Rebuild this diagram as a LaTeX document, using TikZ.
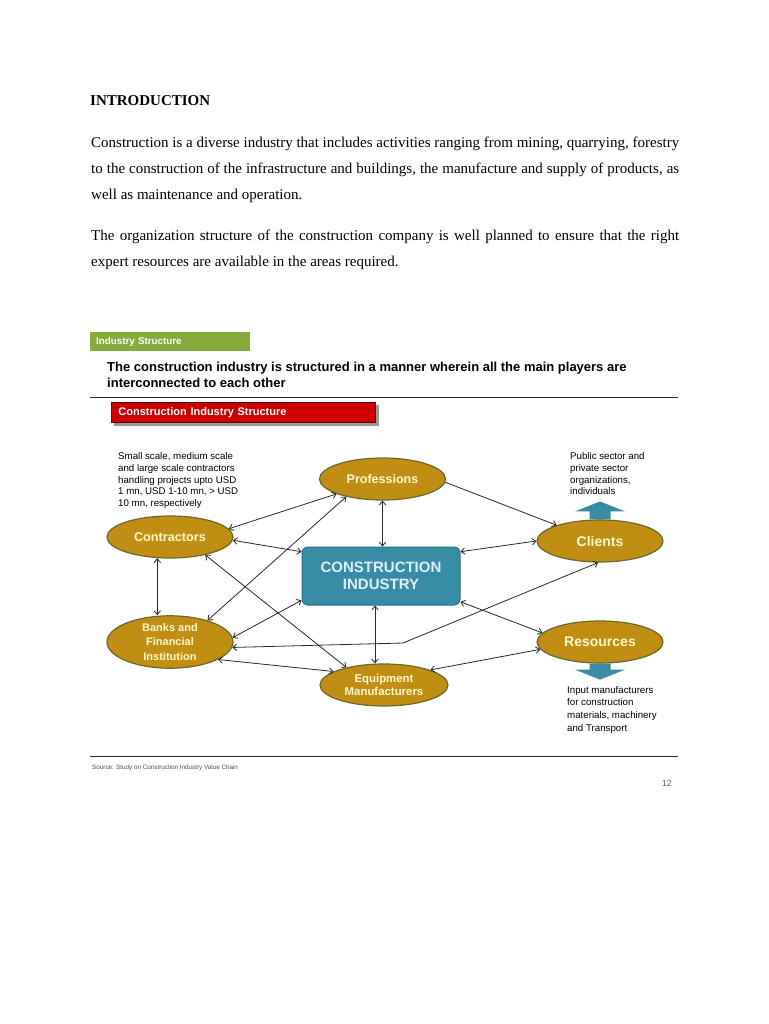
\documentclass[tikz,border=0pt]{standalone}
\usepackage{fontspec}
\setmainfont{Liberation Serif}
\setsansfont{Liberation Sans}
\usepackage{tikz}
\usetikzlibrary{shapes.geometric,arrows.meta,backgrounds}
\definecolor{playergold}{RGB}{191,142,18}
\definecolor{playeredge}{RGB}{105,105,45}
\definecolor{playertext}{RGB}{255,248,205}
\definecolor{industryteal}{RGB}{56,140,166}
\definecolor{industryedge}{RGB}{40,112,134}
\definecolor{industrytext}{RGB}{224,240,248}
\definecolor{bargreen}{RGB}{134,170,60}
\definecolor{barred}{RGB}{204,0,0}
\definecolor{barrededge}{RGB}{90,10,10}
\definecolor{linegrey}{RGB}{40,40,40}
\hyphenpenalty=10000
\exhyphenpenalty=10000

\begin{document}
\begin{tikzpicture}[
    x=1pt, y=-1pt,
    font=\sffamily,
    >={Straight Barb[length=3.8pt,width=6.5pt]},
    player/.style={ellipse, draw=playeredge, line width=1.2pt, fill=playergold, minimum width=126pt, minimum height=42pt, inner sep=0pt, align=center, text=playertext},
    hub/.style={draw=industryedge, line width=1pt, fill=industryteal, rounded corners=6pt, minimum width=158pt, minimum height=58pt, align=center, text=industrytext},
    note/.style={anchor=north west, inner sep=0pt, align=left, font=\sffamily\fontsize{9.7}{11.9}\selectfont},
    bodytext/.style={anchor=north west, inner sep=0pt, text width=588pt, align=justify, font=\rmfamily\fontsize{15}{26}\selectfont},
    arrow/.style={<->, line width=0.8pt, draw=linegrey},
    onearrow/.style={->, line width=0.8pt, draw=linegrey}
]
\useasboundingbox (0,0) rectangle (768,1024);

% ===================== PAGE TEXT =====================
\node[anchor=base west, inner sep=0pt, font=\rmfamily\bfseries\fontsize{15}{18}\selectfont] (intro) at (90,106) {INTRODUCTION};

\node[bodytext] (para1) at (91,136.8)
{Construction is a diverse industry that includes activities ranging from mining, quarrying, forestry\linebreak
to the construction of the infrastructure and buildings, the manufacture and supply of products, as\linebreak
well as maintenance and operation.};

\node[bodytext] (para2) at (91,229.8)
{The organization structure of the construction company is well planned to ensure that the right\linebreak
expert resources are available in the areas required.};

% ===================== HEADERS =====================
\node[anchor=north west, fill=bargreen, minimum height=19pt, text width=148pt, inner xsep=6pt, inner ysep=0pt, align=left, text=white, font=\sffamily\bfseries\fontsize{9.8}{11}\selectfont] (sectionbar) at (90,332) {Industry Structure};

\node[anchor=north west, inner sep=0pt, align=left, font=\sffamily\bfseries\fontsize{13}{15.5}\selectfont] (subtitle) at (107,362)
{The construction industry is structured in a manner wherein all the main players are\\interconnected to each other};

\draw[linegrey, line width=0.8pt] (90,397) -- (678,397);

\node[anchor=north west, fill=barred, draw=barrededge, line width=0.8pt, minimum height=20pt, text width=250pt, inner xsep=7pt, inner ysep=0pt, align=left, text=white, font=\sffamily\bfseries\fontsize{11}{13}\selectfont] (figtitle) at (111,402) {Construction Industry Structure};

% ===================== PLAYERS =====================
\node[player, font=\sffamily\bfseries\fontsize{12.5}{14}\selectfont] (professions) at (382.5,479) {Professions};
\node[player, font=\sffamily\bfseries\fontsize{12.7}{14}\selectfont] (contractors) at (170,537) {Contractors};
\node[player, font=\sffamily\bfseries\fontsize{14}{16}\selectfont] (clients) at (600,541) {Clients};
\node[player, font=\sffamily\bfseries\fontsize{11}{14.5}\selectfont] (banks) at (170,642) {Banks and\\Financial\\Institution};
\node[player, font=\sffamily\bfseries\fontsize{14}{16}\selectfont] (resources) at (600,642) {Resources};
\node[player, minimum width=128pt, font=\sffamily\bfseries\fontsize{11.4}{13}\selectfont] (equipment) at (384,685) {Equipment\\Manufacturers};

\node[hub, font=\sffamily\bfseries\fontsize{15}{17.5}\selectfont] (industry) at (381,576) {CONSTRUCTION\\INDUSTRY};

% ===================== NOTES =====================
\node[note] (contractnote) at (118,452)
{Small scale, medium scale\\and large scale contractors\\handling projects upto USD\\1 mn, USD 1-10 mn, > USD\\10 mn, respectively};
\node[note] (clientnote) at (570,452)
{Public sector  and\\private sector\\organizations,\\individuals};
\node[note, font=\sffamily\fontsize{9.7}{12.6}\selectfont] (resourcenote) at (567,686)
{Input manufacturers\\for construction\\materials, machinery\\and Transport};

% ===================== FOOTER =====================
\draw[linegrey, line width=0.8pt] (90,756) -- (678,756);
\node[anchor=west, inner sep=0pt, text=black!70, font=\sffamily\fontsize{6.3}{7}\selectfont] (source) at (92,768) {Source: Study on Construction Industry Value Chain};
\node[anchor=east, inner sep=0pt, text=black!60, font=\sffamily\fontsize{9}{10}\selectfont] (pageno) at (672,783) {12};

% ===================== BACKGROUND =====================
\begin{pgfonlayer}{background}
\fill[white] (0,0) rectangle (768,1024);
\fill[black!40] ([shift={(3,3)}]figtitle.north west) rectangle ([shift={(3,3)}]figtitle.south east);
\fill[industryteal] ([xshift=-10.5pt]clients.north) -- ++(0,-8) -- ++(-14.5,0) -- ++(25,-10) -- ++(25,10) -- ++(-14.5,0) -- ++(0,8) -- cycle;
\fill[industryteal] ([xshift=-10.5pt]resources.south) -- ++(0,6) -- ++(-14.5,0) -- ++(25,10) -- ++(25,-10) -- ++(-14.5,0) -- ++(0,-6) -- cycle;
\end{pgfonlayer}

% ===================== ARROWS =====================
\coordinate (bend) at (403,643);
\coordinate (ciout) at ([xshift=-6pt]industry.south);

\draw[arrow] (contractors.8) -- (professions.198);
\draw[arrow] (contractors.-3) -- (industry.163);
\draw[arrow] (contractors.-27) -- (equipment.155);
\draw[arrow] (contractors.-121) -- (contractors.-121 |- banks.north);

\draw[arrow] (banks.30) -- (professions.206);
\draw[arrow] (banks.4) -- (industry.197);
\draw[arrow] (banks.-5) -- (bend) -- (clients.-95);
\draw[arrow] (banks.-20) -- (equipment.165);

\draw[arrow] (professions.south) -- (professions.south |- industry.north);
\draw[onearrow] (professions.-3) -- (clients.160);
\draw[arrow] (ciout) -- (ciout |- equipment.north);

\draw[arrow] (industry.17) -- (clients.west);
\draw[arrow] (industry.-18) -- (resources.171);
\draw[arrow] (resources.187) -- (equipment.18);

\end{tikzpicture}
\end{document}
